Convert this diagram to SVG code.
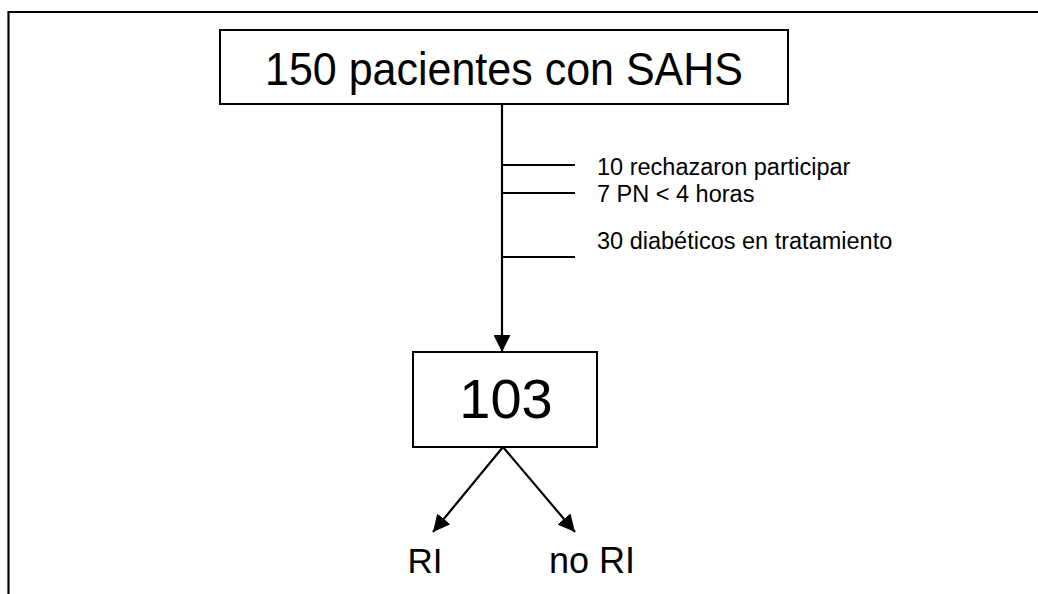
<svg xmlns="http://www.w3.org/2000/svg" width="1038" height="594" viewBox="0 0 1038 594">
  <style>
    .box { fill: #fff; stroke: #000; stroke-width: 2; }
    .line { fill: none; stroke: #000; stroke-width: 2.2; }
    .txt { font-family: "Liberation Sans", Arial, sans-serif; fill: #000; }
    .note { font-size: 23.5px; }
  </style>
  <defs>
    <marker id="arrow" markerUnits="userSpaceOnUse" markerWidth="17" markerHeight="17" viewBox="0 0 17 17" refX="17" refY="8.5" orient="auto">
      <path d="M0,0 L17,8.5 L0,17 Z" fill="#000"/>
    </marker>
  </defs>
  <rect width="1038" height="594" fill="#fff"/>

  <!-- outer frame -->
  <path class="line" d="M8.5,594 V12 H1038"/>

  <g id="connectors">
    <!-- main flow with exclusion branches -->
    <line class="line" x1="502" y1="104" x2="502" y2="352" marker-end="url(#arrow)"/>
    <line class="line" x1="502" y1="165" x2="575" y2="165"/>
    <line class="line" x1="502" y1="193" x2="575" y2="193"/>
    <line class="line" x1="502" y1="257" x2="575" y2="257"/>
    <!-- split into outcome groups -->
    <line class="line" x1="503" y1="447" x2="433" y2="532" marker-end="url(#arrow)"/>
    <line class="line" x1="503" y1="447" x2="575" y2="532" marker-end="url(#arrow)"/>
  </g>

  <g id="node-total">
    <rect class="box" x="220" y="30" width="568" height="74"/>
    <text class="txt" transform="translate(504,85) scale(1,1.08)" font-size="43" text-anchor="middle">150 pacientes con SAHS</text>
  </g>

  <g id="exclusions">
    <text class="txt note" x="597" y="175">10 rechazaron participar</text>
    <text class="txt note" x="597" y="202">7 PN &lt; 4 horas</text>
    <text class="txt note" x="597" y="249">30 diabéticos en tratamiento</text>
  </g>

  <g id="node-included">
    <rect class="box" x="413" y="352" width="184" height="95"/>
    <text class="txt" x="506" y="418" font-size="56" text-anchor="middle">103</text>
  </g>

  <g id="node-ri">
    <text class="txt" x="425" y="573" font-size="35" text-anchor="middle">RI</text>
  </g>

  <g id="node-no-ri">
    <text class="txt" x="592" y="573" font-size="36" text-anchor="middle">no RI</text>
  </g>
</svg>
